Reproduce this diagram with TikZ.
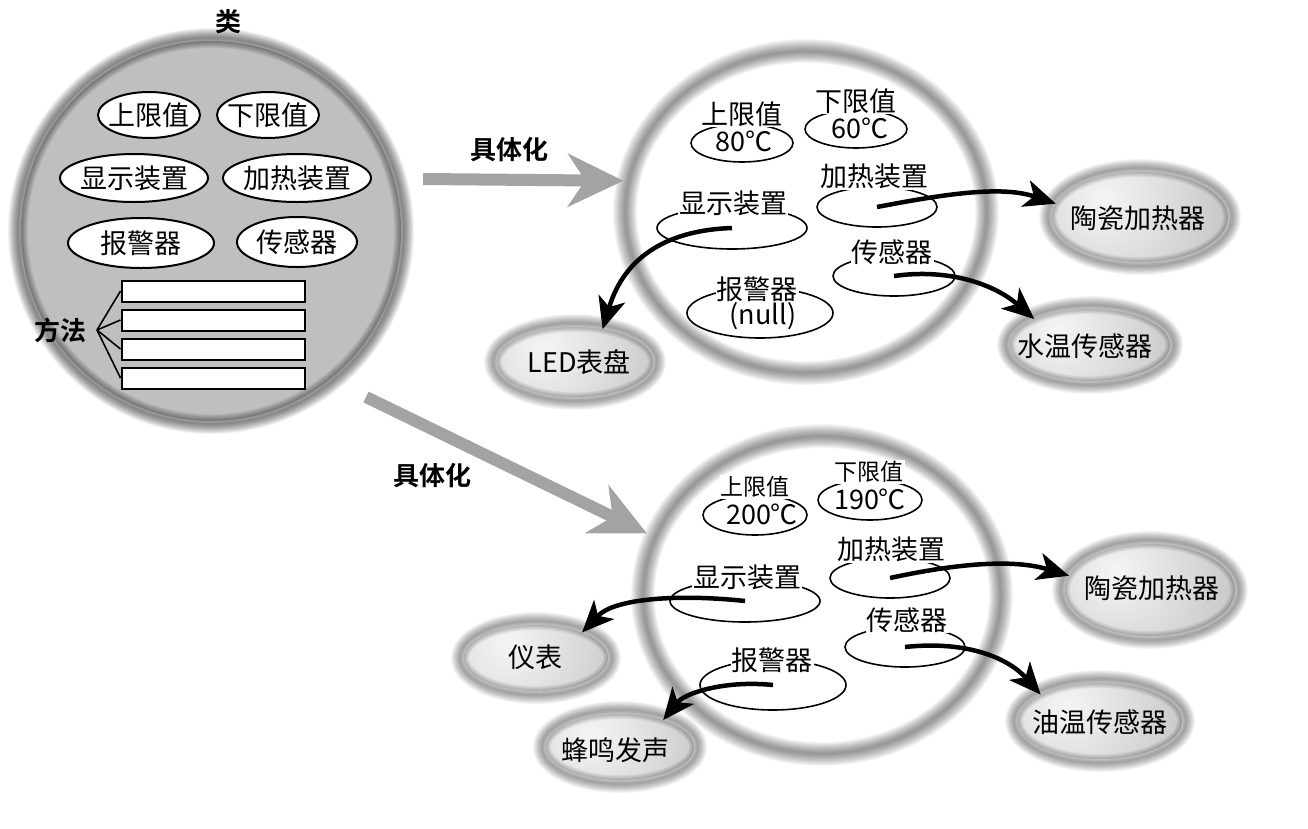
\documentclass[tikz,border=0pt]{standalone}
\usepackage{fontspec}
\setmainfont{Noto Sans CJK SC}[BoldFont={Noto Sans CJK SC Bold}]
\usetikzlibrary{shapes.geometric,arrows.meta,calc}

% soft dark rim around an ellipse: centre x, centre y, x radius, y radius, full width, layer opacity
\newcommand\softrim[6]{%
  \foreach \k in {1,...,14}{%
    \draw[black, draw opacity=#6, line width={#5*\k/14}] (#1,#2) ellipse [x radius=#3, y radius=#4];}}

\tikzset{
  fs/.style={font=\fontsize{#1}{#1}\selectfont},
  classbody/.style={circle, fill=gray!50, inner sep=0pt},
  instbody/.style={ellipse, fill=white, inner sep=0pt},
  blob/.style={ellipse, inner sep=0pt, path picture={
      \shade[inner color=gray!8, outer color=gray!66]
        ($(path picture bounding box.center)!0.4!(path picture bounding box.north west)$) circle (200);}},
  cfield/.style={ellipse, draw, fill=white, line width=2pt, inner sep=0pt},
  ifield/.style={ellipse, draw, line width=1.6pt, inner sep=0pt},
  ilabel/.style={fill=white, inner sep=1pt, fs=27},
  txt/.style={inner sep=0pt, fs=27},
  btitle/.style={inner sep=0pt, font=\fontsize{26}{26}\selectfont\bfseries},
  mbox/.style={rectangle, draw, fill=white, line width=2pt, minimum width=183pt, minimum height=21pt, inner sep=0pt},
  bigarrow/.style={draw=gray!72, line width=12pt,
    -{Stealth[length=56pt, width=54pt, inset=18pt, line width=1pt]}},
  conn/.style={draw=black, line width=4.5pt,
    -{Stealth[length=32pt, width=28pt, inset=9pt, line width=1pt]}},
}

\begin{document}
\begin{tikzpicture}[x=1pt, y=-1pt]
\useasboundingbox (0,0) rectangle (1308,828);

% ---------- the class ----------
\node[classbody, minimum size=380pt] (cls) at (211,231) {};
\softrim{211}{231}{193}{193}{20}{0.042}
\node[btitle] (clsname) at (228,22) {类};

\node[cfield, minimum width=102pt, minimum height=46pt] (c1) at (149,115) {};
\node[txt] (c1t) at (c1) {上限值};
\node[cfield, minimum width=102pt, minimum height=46pt] (c2) at (268,115) {};
\node[txt] (c2t) at (c2) {下限值};
\node[cfield, minimum width=148pt, minimum height=48pt] (c3) at (134,178) {};
\node[txt] (c3t) at (c3) {显示装置};
\node[cfield, minimum width=148pt, minimum height=48pt] (c4) at (297,178) {};
\node[txt] (c4t) at (c4) {加热装置};
\node[cfield, minimum width=146pt, minimum height=50pt] (c5) at (141,243) {};
\node[txt] (c5t) at (c5) {报警器};
\node[cfield, minimum width=120pt, minimum height=50pt] (c6) at (297,242) {};
\node[txt] (c6t) at (c6) {传感器};

\node[btitle] (mth) at (60,330) {方法};
\coordinate (br) at (97,330);
\node[mbox] (m1) at (213,291) {};
\node[mbox] (m2) at (213,320) {};
\node[mbox] (m3) at (213,349) {};
\node[mbox] (m4) at (213,378) {};
\foreach \i in {1,...,4} \draw[line width=1.6pt] (br) -- (m\i.west);

% ---------- the two instances ----------
\node[instbody, minimum width=360pt, minimum height=320pt] (inst1) at (806,212) {};
\softrim{806}{212}{181}{161}{24}{0.036}
\node[instbody, minimum width=356pt, minimum height=316pt] (inst2) at (822,595) {};
\softrim{822}{595}{179}{159}{24}{0.036}

% instantiation arrows
\coordinate (a1s) at (423,179);
\draw[bigarrow, shorten >=6pt] (a1s) -- (inst1.170);
\node[btitle] (a1t) at (509,150) {具体化};
\coordinate (a2s) at (366,397);
\draw[bigarrow, shorten >=10pt] (a2s) -- (inst2.161);
\node[btitle] (a2t) at (432,476) {具体化};

% fields of the first instance
\node[ifield, minimum width=102pt, minimum height=38pt] (u1) at (742,143) {};
\node[ilabel] (u1t) at (742,114) {上限值};
\node[txt] (u1v) at (744,141) {80℃};
\node[ifield, minimum width=102pt, minimum height=38pt] (u2) at (856,129) {};
\node[ilabel] (u2t) at (856,101) {下限值};
\node[txt] (u2v) at (860,128) {60℃};
\node[ifield, minimum width=120pt, minimum height=40pt] (u3) at (877,207) {};
\node[ilabel] (u3t) at (874,176) {加热装置};
\node[ifield, minimum width=150pt, minimum height=42pt] (u4) at (732,228) {};
\node[ilabel] (u4t) at (733,203) {显示装置};
\node[ifield, minimum width=122pt, minimum height=40pt] (u5) at (894,276) {};
\node[ilabel] (u5t) at (892,252) {传感器};
\node[ifield, minimum width=146pt, minimum height=50pt] (u6) at (760,313) {};
\node[ilabel] (u6t) at (757,289) {报警器};
\node[txt] (u6v) at (763,316) {(null)};

% fields of the second instance
\node[ifield, minimum width=104pt, minimum height=40pt] (l1) at (755,515) {};
\node[ilabel, fs=23] (l1t) at (755,487) {上限值};
\node[txt] (l1v) at (762,514) {200℃};
\node[ifield, minimum width=104pt, minimum height=40pt] (l2) at (870,500) {};
\node[ilabel, fs=23] (l2t) at (869,472) {下限值};
\node[txt] (l2v) at (870,499) {190℃};
\node[ifield, minimum width=120pt, minimum height=40pt] (l3) at (890,578) {};
\node[ilabel] (l3t) at (891,549) {加热装置};
\node[ifield, minimum width=150pt, minimum height=42pt] (l4) at (745,601) {};
\node[ilabel] (l4t) at (747,577) {显示装置};
\node[ifield, minimum width=120pt, minimum height=40pt] (l5) at (905,647) {};
\node[ilabel] (l5t) at (907,620) {传感器};
\node[ifield, minimum width=146pt, minimum height=50pt] (l6) at (773,685) {};
\node[ilabel] (l6t) at (772,660) {报警器};

% ---------- concrete parts ----------
\node[blob, minimum width=156pt, minimum height=70pt] (led) at (575,362) {};
\softrim{575}{362}{82}{39}{18}{0.032}
\node[txt] (ledt) at (579,362) {LED表盘};
\node[blob, minimum width=176pt, minimum height=90pt] (cer1) at (1140,217) {};
\softrim{1140}{217}{92}{49}{18}{0.032}
\node[txt] (cer1t) at (1138,218) {陶瓷加热器};
\node[blob, minimum width=160pt, minimum height=72pt] (wts) at (1090,345) {};
\softrim{1090}{345}{84}{40}{18}{0.032}
\node[txt] (wtst) at (1085,346) {水温传感器};
\node[blob, minimum width=144pt, minimum height=66pt] (yb) at (536,658) {};
\softrim{536}{658}{76}{37}{18}{0.032}
\node[txt] (ybt) at (535,657) {仪表};
\node[blob, minimum width=148pt, minimum height=66pt] (fm) at (620,747) {};
\softrim{620}{747}{78}{37}{18}{0.032}
\node[txt] (fmt) at (615,750) {蜂鸣发声};
\node[blob, minimum width=170pt, minimum height=92pt] (cer2) at (1150,590) {};
\softrim{1150}{590}{89}{50}{18}{0.032}
\node[txt] (cer2t) at (1152,588) {陶瓷加热器};
\node[blob, minimum width=164pt, minimum height=76pt] (yts) at (1100,721) {};
\softrim{1100}{721}{86}{42}{18}{0.032}
\node[txt] (ytst) at (1100,722) {油温传感器};

% ---------- references from fields to parts ----------
\draw[conn] (u4.center) .. controls (670,230) and (625,255) .. (led.50);
\draw[conn] (u3.center) .. controls (940,195) and (1000,185) .. (cer1.171);
\draw[conn] (u5.center) .. controls (950,268) and (995,285) .. (wts.155);
\draw[conn] (l4.center) .. controls (680,594) and (615,598) .. (yb.29);
\draw[conn] (l6.center) .. controls (725,680) and (685,693) .. (fm.32);
\draw[conn] (l3.center) .. controls (950,565) and (1010,558) .. (cer2.170);
\draw[conn] (l5.center) .. controls (970,640) and (1010,660) .. (yts.156);
\end{tikzpicture}
\end{document}
